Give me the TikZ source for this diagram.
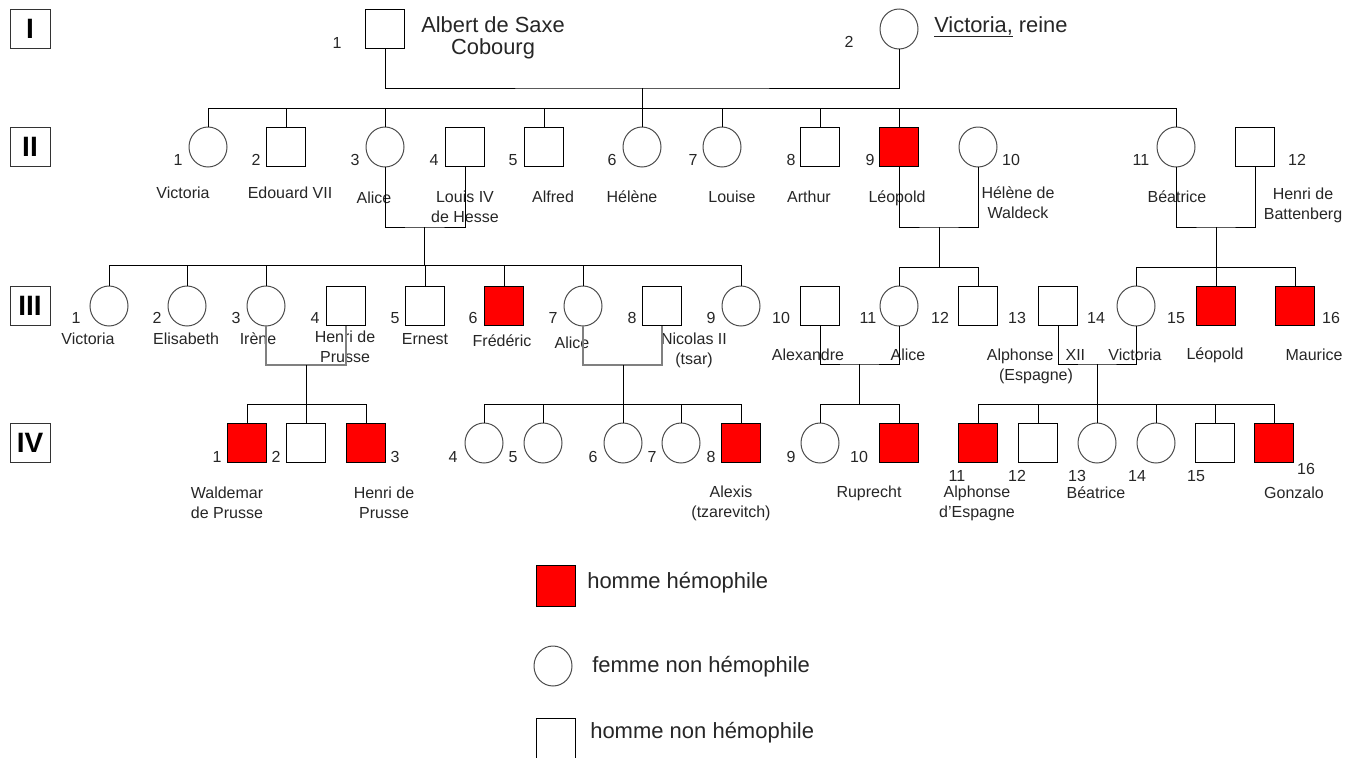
\documentclass[tikz,border=0pt]{standalone}
\usepackage{fontspec}
\setmainfont{Liberation Sans}
\usetikzlibrary{shapes.geometric}
\begin{document}
\begin{tikzpicture}[x=0.75pt,y=-0.75pt,
  sq/.style={draw=black, line width=0.75pt, minimum width=29.5pt, minimum height=29.25pt, inner sep=0pt, outer sep=0pt, fill=white},
  hsq/.style={sq, fill=red},
  circ/.style={ellipse, draw=black!70, line width=0.75pt, minimum width=28.5pt, minimum height=30pt, inner sep=0pt, outer sep=0pt, fill=white},
  num/.style={font=\fontsize{12}{14}\selectfont, inner sep=0pt, text=black!85},
  lbl/.style={font=\fontsize{12}{15}\selectfont, align=center, inner sep=0pt, text=black!85},
  big/.style={font=\fontsize{16.4}{17}\selectfont, align=center, inner sep=0pt, text=black!85},
  leg/.style={font=\fontsize{16.5}{18}\selectfont, inner sep=0pt, text=black!85, anchor=west},
  gen/.style={draw=black!80, line width=0.75pt, minimum width=30pt, minimum height=29.25pt, inner sep=0pt, font=\fontsize{21}{21}\selectfont\bfseries},
  ln/.style={draw=black, line width=0.75pt},
  gln/.style={draw=black!50, line width=1.5pt},
]
\useasboundingbox (0,0) rectangle (1359,757);

% generation boxes
\node[gen] (gI) at (30,29) {I};
\node[gen] (gII) at (30,147) {II};
\node[gen] (gIII) at (30,306) {III};
\node[gen] (gIV) at (30,443) {IV};

% ---------- generation I ----------
\node[sq] (I1) at (385,29) {};
\node[circ] (I2) at (899,29) {};
\node[num] (nI1) at (337,43) {1};
\node[num] (nI2) at (849,42) {2};
\node[big] (lI1) at (493,38) {Albert de Saxe\\Cobourg};
\node[big, anchor=base west] (lI2) at (934,32) {\underline{Victoria,} reine};

% ---------- generation II ----------
\node[circ] (II1) at (208,147) {};
\node[sq] (II2) at (286,147) {};
\node[circ] (II3) at (385,147) {};
\node[sq] (II4) at (465,147) {};
\node[sq] (II5) at (544,147) {};
\node[circ] (II6) at (642,147) {};
\node[circ] (II7) at (722,147) {};
\node[sq] (II8) at (820,147) {};
\node[hsq] (II9) at (899,147) {};
\node[circ] (II10) at (978,147) {};
\node[circ] (II11) at (1176,147) {};
\node[sq] (II12) at (1255,147) {};

\node[num] (nII1) at (178,160) {1};
\node[num] (nII2) at (256,160) {2};
\node[num] (nII3) at (355,160) {3};
\node[num] (nII4) at (434,160) {4};
\node[num] (nII5) at (513,160) {5};
\node[num] (nII6) at (612,160) {6};
\node[num] (nII7) at (693,160) {7};
\node[num] (nII8) at (791,160) {8};
\node[num] (nII9) at (870,160) {9};
\node[num] (nII10) at (1011,160) {10};
\node[num] (nII11) at (1141,160) {11};
\node[num] (nII12) at (1297,160) {12};

\node[lbl] (lII1) at (183,193) {Victoria};
\node[lbl] (lII2) at (290,193) {Edouard VII};
\node[lbl] (lII3) at (374,198) {Alice};
\node[lbl] (lII4) at (465,207) {Louis IV\\de Hesse};
\node[lbl] (lII5) at (553,197) {Alfred};
\node[lbl] (lII6) at (632,197) {Hélène};
\node[lbl] (lII7) at (732,197) {Louise};
\node[lbl] (lII8) at (809,197) {Arthur};
\node[lbl] (lII9) at (897,198) {Léopold};
\node[lbl] (lII10) at (1018,203) {Hélène de\\Waldeck};
\node[lbl] (lII11) at (1177,197) {Béatrice};
\node[lbl] (lII12) at (1303,205) {Henri de\\Battenberg};

% ---------- generation III ----------
\node[circ] (III1) at (109,306) {};
\node[circ] (III2) at (187,306) {};
\node[circ] (III3) at (266,306) {};
\node[sq] (III4) at (346,306) {};
\node[sq] (III5) at (425,306) {};
\node[hsq] (III6) at (504,306) {};
\node[circ] (III7) at (583,306) {};
\node[sq] (III8) at (662,306) {};
\node[circ] (III9) at (741,306) {};
\node[sq] (III10) at (820,306) {};
\node[circ] (III11) at (899,306) {};
\node[sq] (III12) at (978,306) {};
\node[sq] (III13) at (1058,306) {};
\node[circ] (III14) at (1136,306) {};
\node[hsq] (III15) at (1216,306) {};
\node[hsq] (III16) at (1295,306) {};

\node[num] (nIII1) at (76,318) {1};
\node[num] (nIII2) at (157,318) {2};
\node[num] (nIII3) at (236,318) {3};
\node[num] (nIII4) at (315,318) {4};
\node[num] (nIII5) at (395,318) {5};
\node[num] (nIII6) at (473,318) {6};
\node[num] (nIII7) at (553,318) {7};
\node[num] (nIII8) at (632,318) {8};
\node[num] (nIII9) at (711,318) {9};
\node[num] (nIII10) at (781,318) {10};
\node[num] (nIII11) at (868,318) {11};
\node[num] (nIII12) at (940,318) {12};
\node[num] (nIII13) at (1017,318) {13};
\node[num] (nIII14) at (1096,318) {14};
\node[num] (nIII15) at (1176,318) {15};
\node[num] (nIII16) at (1331,318) {16};

\node[lbl] (lIII1) at (88,339) {Victoria};
\node[lbl] (lIII2) at (186,339) {Elisabeth};
\node[lbl] (lIII3) at (258,339) {Irène};
\node[lbl] (lIII4) at (345,347) {Henri de\\Prusse};
\node[lbl] (lIII5) at (425,339) {Ernest};
\node[lbl] (lIII6) at (502,341) {Frédéric};
\node[lbl] (lIII7) at (572,343) {Alice};
\node[lbl] (lIII8) at (694,350) {Nicolas II\\(tsar)};
\node[lbl] (lIII10) at (808,355) {Alexandre};
\node[lbl] (lIII11) at (908,355) {Alice};
\node[lbl] (lIII13) at (1036,366) {Alphonse\hspace{9pt}XII\\(Espagne)};
\node[lbl] (lIII14) at (1135,355) {Victoria};
\node[lbl] (lIII15) at (1215,355) {Léopold};
\node[lbl] (lIII16) at (1314,355) {Maurice};

% ---------- generation IV ----------
\node[hsq] (IV1) at (247,443) {};
\node[sq] (IV2) at (306,443) {};
\node[hsq] (IV3) at (366,443) {};
\node[circ] (IV4) at (484,443) {};
\node[circ] (IV5) at (543,443) {};
\node[circ] (IV6) at (623,443) {};
\node[circ] (IV7) at (681,443) {};
\node[hsq] (IV8) at (741,443) {};
\node[circ] (IV9) at (820,443) {};
\node[hsq] (IV10) at (899,443) {};
\node[hsq] (IV11) at (978,443) {};
\node[sq] (IV12) at (1038,443) {};
\node[circ] (IV13) at (1097,443) {};
\node[circ] (IV14) at (1156,443) {};
\node[sq] (IV15) at (1215,443) {};
\node[hsq] (IV16) at (1274,443) {};

\node[num] (nIV1) at (217,457) {1};
\node[num] (nIV2) at (276,457) {2};
\node[num] (nIV3) at (395,457) {3};
\node[num] (nIV4) at (453,457) {4};
\node[num] (nIV5) at (513,457) {5};
\node[num] (nIV6) at (593,457) {6};
\node[num] (nIV7) at (652,457) {7};
\node[num] (nIV8) at (711,457) {8};
\node[num] (nIV9) at (791,457) {9};
\node[num] (nIV10) at (859,457) {10};
\node[num] (nIV11) at (957,476) {11};
\node[num] (nIV12) at (1017,476) {12};
\node[num] (nIV13) at (1077,476) {13};
\node[num] (nIV14) at (1137,476) {14};
\node[num] (nIV15) at (1196,476) {15};
\node[num] (nIV16) at (1306,469) {16};

\node[lbl] (lIV1) at (227,503) {Waldemar\\de Prusse};
\node[lbl] (lIV3) at (384,503) {Henri de\\Prusse};
\node[lbl] (lIV8) at (731,503) {Alexis\\(tzarevitch)};
\node[lbl] (lIV10) at (869,493) {Ruprecht};
\node[lbl] (lIV11) at (977,503) {Alphonse\\d'Espagne};
\node[lbl] (lIV13) at (1096,493) {Béatrice};
\node[lbl] (lIV16) at (1294,493) {Gonzalo};

% ---------- connectors ----------
% I
\coordinate (mI) at (642,88);
\coordinate (sII) at (642,108);
\draw[ln] (I1.south) |- (mI) -| (I2.south);
\draw[ln] (mI) -- (sII);
\draw[ln] (II1.north |- sII) -- (II11.north |- sII);
\foreach \n in {II1,II2,II3,II5,II6,II7,II8,II9,II11}
  \draw[ln] (\n.north) -- (\n.north |- sII);

% II couples
\coordinate (mIIa) at (424,227);
\coordinate (sIIIa) at (424,265);
\draw[ln] (II3.south) |- (mIIa) -| (II4.south);
\draw[ln] (mIIa) -- (sIIIa);
\draw[ln] (III1.north |- sIIIa) -- (III9.north |- sIIIa);
\foreach \n in {III1,III2,III3,III5,III6,III7,III9}
  \draw[ln] (\n.north) -- (\n.north |- sIIIa);

\coordinate (mIIb) at (939,227);
\coordinate (sIIIb) at (939,267);
\draw[ln] (II9.south) |- (mIIb) -| (II10.south);
\draw[ln] (mIIb) -- (sIIIb);
\draw[ln] (III11.north |- sIIIb) -- (III12.north |- sIIIb);
\foreach \n in {III11,III12}
  \draw[ln] (\n.north) -- (\n.north |- sIIIb);

\coordinate (mIIc) at (1216,227);
\coordinate (sIIIc) at (1216,267);
\draw[ln] (II11.south) |- (mIIc) -| (II12.south);
\draw[ln] (mIIc) -- (sIIIc);
\draw[ln] (III14.north |- sIIIc) -- (III16.north |- sIIIc);
\foreach \n in {III14,III15,III16}
  \draw[ln] (\n.north) -- (\n.north |- sIIIc);

% III couples
\coordinate (mIIIa) at (306,365);
\coordinate (sIVa) at (306,404);
\draw[gln] (III3.south) |- (mIIIa) -| (III4.south);
\draw[ln] (mIIIa) -- (sIVa);
\draw[ln] (IV1.north |- sIVa) -- (IV3.north |- sIVa);
\foreach \n in {IV1,IV2,IV3}
  \draw[ln] (\n.north) -- (\n.north |- sIVa);

\coordinate (mIIIb) at (623,365);
\coordinate (sIVb) at (623,404);
\draw[gln] (III7.south) |- (mIIIb) -| (III8.south);
\draw[ln] (mIIIb) -- (sIVb);
\draw[ln] (IV4.north |- sIVb) -- (IV8.north |- sIVb);
\foreach \n in {IV4,IV5,IV6,IV7,IV8}
  \draw[ln] (\n.north) -- (\n.north |- sIVb);

\coordinate (mIIIc) at (859,364);
\coordinate (sIVc) at (859,404);
\draw[ln] (III10.south) |- (mIIIc) -| (III11.south);
\draw[ln] (mIIIc) -- (sIVc);
\draw[ln] (IV9.north |- sIVc) -- (IV10.north |- sIVc);
\foreach \n in {IV9,IV10}
  \draw[ln] (\n.north) -- (\n.north |- sIVc);

\coordinate (mIIId) at (1097,364);
\coordinate (sIVd) at (1097,404);
\draw[ln] (III13.south) |- (mIIId) -| (III14.south);
\draw[ln] (mIIId) -- (sIVd);
\draw[ln] (IV11.north |- sIVd) -- (IV16.north |- sIVd);
\foreach \n in {IV11,IV12,IV13,IV14,IV15,IV16}
  \draw[ln] (\n.north) -- (\n.north |- sIVd);

% ---------- legend ----------
\node[hsq, minimum height=31pt] (Lh) at (556,586) {};
\node[leg] (Lht) at (587,583) {homme hémophile};
\node[circ] (Lf) at (553,666) {};
\node[leg] (Lft) at (592,667) {femme non hémophile};
\node[sq, minimum height=31pt] (Lm) at (556,739) {};
\node[leg] (Lmt) at (590,733) {homme non hémophile};
\end{tikzpicture}
\end{document}
